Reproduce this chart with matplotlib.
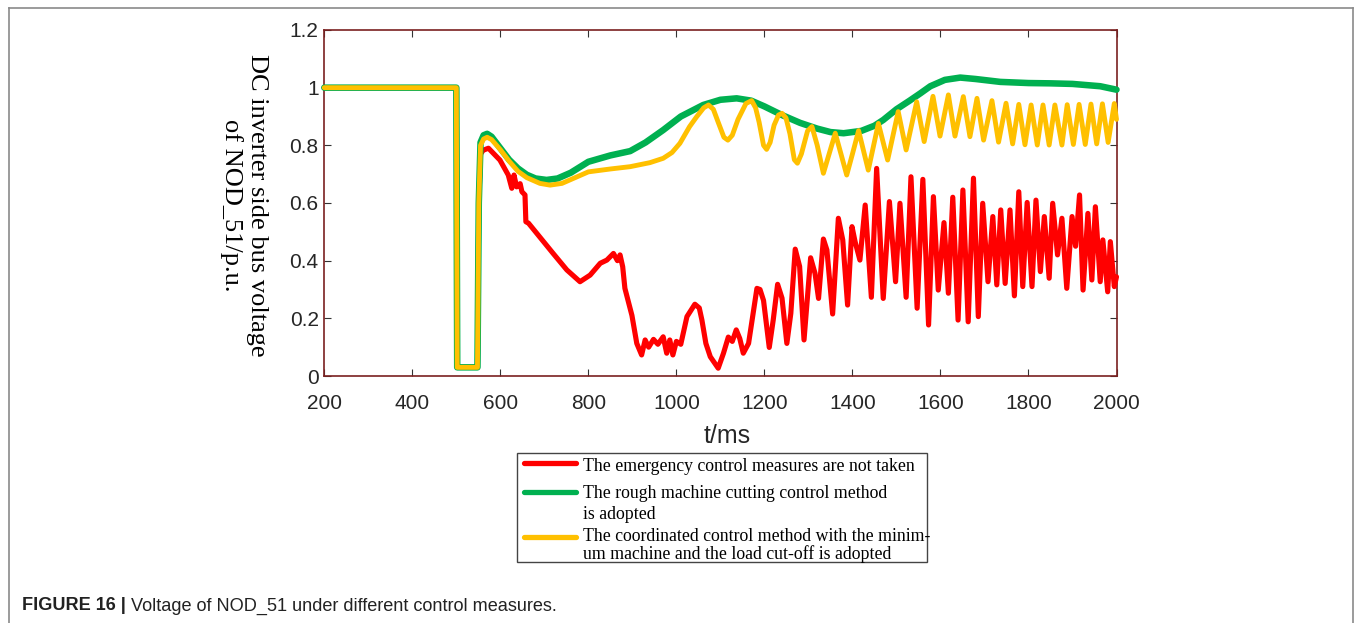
import matplotlib
matplotlib.use('Agg')
import matplotlib.pyplot as plt
from matplotlib.lines import Line2D
from matplotlib.patches import Rectangle

plt.rcParams['font.family'] = ['Liberation Sans', 'DejaVu Sans']

# ---------------- data (t in ms, voltage in p.u.) ----------------
green_curve = [(200, 1.0), (500, 1.0), (502, 0.03), (548, 0.03), (551, 0.6), (555, 0.81),
               (562, 0.835), (570, 0.84), (580, 0.83), (600, 0.79), (620, 0.75), (640, 0.72),
               (660, 0.698), (680, 0.685), (705, 0.68), (730, 0.685), (760, 0.705), (800, 0.743),
               (850, 0.765), (895, 0.78), (930, 0.81), (970, 0.853), (1010, 0.9), (1061, 0.94),
               (1100, 0.958), (1137, 0.963), (1170, 0.955), (1200, 0.935), (1240, 0.905),
               (1281, 0.878), (1320, 0.858), (1350, 0.846), (1380, 0.842), (1420, 0.85),
               (1450, 0.868), (1470, 0.888), (1500, 0.925), (1530, 0.955), (1554, 0.98),
               (1577, 1.005), (1610, 1.027), (1645, 1.035), (1680, 1.03), (1736, 1.02),
               (1800, 1.016), (1850, 1.015), (1900, 1.013), (1963, 1.005), (2000, 0.993)]

yellow_curve = [(200, 1.0), (500, 1.0), (502, 0.03), (548, 0.03), (551, 0.6), (555, 0.80),
                (562, 0.822), (570, 0.828), (580, 0.82), (600, 0.785), (620, 0.745), (640, 0.71),
                (660, 0.688), (690, 0.668), (713, 0.662), (740, 0.668), (770, 0.688), (800, 0.708),
                (850, 0.718), (895, 0.726), (940, 0.74), (970, 0.755), (990, 0.775), (1008, 0.807),
                (1030, 0.865), (1046, 0.899), (1062, 0.93), (1073, 0.94), (1084, 0.925),
                (1095, 0.88), (1108, 0.828), (1117, 0.818), (1127, 0.835), (1140, 0.89),
                (1158, 0.945), (1171, 0.955), (1180, 0.93), (1188, 0.88), (1198, 0.80),
                (1205, 0.786), (1213, 0.81), (1222, 0.87), (1232, 0.905), (1240, 0.911),
                (1249, 0.895), (1258, 0.84), (1268, 0.75), (1275, 0.738), (1284, 0.77),
                (1298, 0.85), (1308, 0.865), (1320, 0.80), (1334, 0.703), (1347, 0.77),
                (1361, 0.842), (1374, 0.77), (1387, 0.697), (1400, 0.77), (1414, 0.851),
                (1436, 0.714), (1459, 0.876),
                (1480, 0.749), (1504, 0.917), (1522, 0.784), (1546, 0.951), (1563, 0.813),
                (1583, 0.97), (1599, 0.832), (1618, 0.975), (1633, 0.832), (1652, 0.969),
                (1667, 0.830), (1683, 0.963), (1698, 0.818), (1717, 0.955), (1732, 0.811),
                (1749, 0.946), (1764, 0.805), (1778, 0.942), (1792, 0.802), (1806, 0.940),
                (1820, 0.801), (1833, 0.940), (1847, 0.801), (1860, 0.940), (1876, 0.801),
                (1888, 0.941), (1902, 0.803), (1915, 0.942), (1929, 0.803), (1942, 0.943),
                (1955, 0.805), (1968, 0.944), (1981, 0.81), (1995, 0.945), (2000, 0.89)]

red_curve = [(200, 1.0), (500, 1.0), (502, 0.03), (548, 0.03), (551, 0.6), (555, 0.77),
             (561, 0.783), (573, 0.79), (599, 0.749), (618, 0.697), (626, 0.651), (631, 0.697),
             (637, 0.656), (645, 0.667), (649, 0.639), (656, 0.628), (658, 0.535), (664, 0.53),
             (720, 0.425), (751, 0.368), (781, 0.327), (804, 0.35), (827, 0.391), (842, 0.402),
             (857, 0.425), (866, 0.40), (872, 0.42), (878, 0.379), (883, 0.304), (899, 0.210),
             (910, 0.113), (921, 0.073), (929, 0.125), (937, 0.10), (948, 0.127), (958, 0.11),
             (970, 0.136), (978, 0.079), (985, 0.125), (992, 0.073), (1000, 0.12), (1010, 0.11),
             (1024, 0.206), (1042, 0.249), (1052, 0.236), (1058, 0.194), (1067, 0.113),
             (1077, 0.067), (1095, 0.027), (1107, 0.079), (1118, 0.135), (1127, 0.12),
             (1136, 0.16), (1144, 0.13), (1152, 0.079), (1164, 0.113), (1183, 0.304),
             (1190, 0.30), (1198, 0.262), (1211, 0.099), (1220, 0.194), (1230, 0.318),
             (1240, 0.27), (1251, 0.113), (1260, 0.217), (1270, 0.44), (1280, 0.38),
             (1290, 0.125), (1305, 0.41), (1315, 0.356), (1323, 0.269), (1334, 0.475),
             (1342, 0.437), (1355, 0.215), (1368, 0.547), (1378, 0.472), (1389, 0.246),
             (1399, 0.518), (1406, 0.466), (1417, 0.402), (1429, 0.593), (1443, 0.273),
             (1455, 0.72), (1470, 0.269), (1484, 0.605), (1498, 0.327), (1508, 0.599),
             (1522, 0.273), (1533, 0.691), (1547, 0.235), (1560, 0.682), (1573, 0.177),
             (1584, 0.622), (1595, 0.298), (1608, 0.532), (1618, 0.287), (1628, 0.62),
             (1640, 0.194), (1651, 0.645), (1663, 0.188), (1675, 0.686), (1686, 0.206),
             (1696, 0.599), (1708, 0.327), (1719, 0.553), (1728, 0.316), (1737, 0.576),
             (1747, 0.321), (1758, 0.576), (1768, 0.278), (1778, 0.639), (1787, 0.31),
             (1797, 0.602), (1808, 0.31), (1817, 0.61), (1827, 0.362), (1836, 0.553),
             (1847, 0.339), (1855, 0.599), (1866, 0.42), (1876, 0.547), (1887, 0.304),
             (1899, 0.553), (1907, 0.45), (1916, 0.628), (1924, 0.298), (1935, 0.564),
             (1944, 0.333), (1952, 0.587), (1963, 0.327), (1969, 0.472), (1980, 0.292),
             (1986, 0.466), (1995, 0.31), (2000, 0.344)]

series_labels = ["The emergency control measures are not taken",
                 "The rough machine cutting control method\nis adopted",
                 "The coordinated control method with the minim-\num machine and the load cut-off is adopted"]
x_ticks = [200, 400, 600, 800, 1000, 1200, 1400, 1600, 1800, 2000]
y_ticks = [0, 0.2, 0.4, 0.6, 0.8, 1.0, 1.2]
y_tick_labels = ['0', '0.2', '0.4', '0.6', '0.8', '1', '1.2']
x_label = 't/ms'
y_label = 'DC inverter side bus voltage\nof NOD_51/p.u.'
caption_bold = 'FIGURE 16 |'
caption_rest = ' Voltage of NOD_51 under different control measures.'

RED, GREEN, YELLOW = '#ff0000', '#00b050', '#ffc000'
SPINE = '#7a2020'

# ---------------- figure ----------------
W, H = 1354, 623
fig = plt.figure(figsize=(W / 100, H / 100), dpi=100)
fig.patch.set_facecolor('white')


def fx(px):
    return px / W


def fy(py):
    return 1 - py / H


# outer frame (open at the bottom)
frame_kw = dict(transform=fig.transFigure, color='#8a8a8a', lw=1.2)
fig.add_artist(Line2D([fx(8.5), fx(1352.5)], [fy(7.5), fy(7.5)], **frame_kw))
fig.add_artist(Line2D([fx(8.5), fx(8.5)], [fy(7.5), 0], **frame_kw))
fig.add_artist(Line2D([fx(1352.5), fx(1352.5)], [fy(7.5), 0], **frame_kw))

ax = fig.add_axes([fx(324.3), fy(376), (1116.5 - 324.3) / W, (376 - 30) / H])


def split(curve):
    return [p[0] for p in curve], [p[1] for p in curve]


line_kw = dict(solid_joinstyle='round', solid_capstyle='round', clip_on=False)
t, v = split(red_curve)
ax.plot(t, v, color=RED, lw=3.7, zorder=3, **line_kw)
t, v = split(green_curve)
ax.plot(t, v, color=GREEN, lw=4.7, zorder=4, **line_kw)
t, v = split(yellow_curve)
ax.plot(t, v, color=YELLOW, lw=3.5, zorder=5, **line_kw)

ax.set_xlim(200, 2000)
ax.set_ylim(0, 1.2)
ax.set_xticks(x_ticks)
ax.set_xticklabels([str(x) for x in x_ticks])
ax.set_yticks(y_ticks)
ax.set_yticklabels(y_tick_labels)
for s in ax.spines.values():
    s.set_color(SPINE)
    s.set_linewidth(1.2)
ax.tick_params(axis='both', direction='in', length=5, width=0.8, color='#333333',
               labelcolor='#262626', labelsize=15, top=True, right=True)
ax.tick_params(axis='x', pad=13)
ax.tick_params(axis='y', pad=4)

fig.text(fx(727), fy(436), x_label, ha='center', va='center', fontsize=18, color='#262626')
fig.text(fx(244), fy(205), y_label, ha='center', va='center', rotation=270,
         rotation_mode='anchor', multialignment='center', fontsize=19,
         family='Liberation Serif', color='black', linespacing=1.15)

# ---------------- legend (manual) ----------------
fig.add_artist(Rectangle((fx(516.7), fy(561.7)), (927 - 516.7) / W, (561.7 - 453) / H,
                         transform=fig.transFigure, facecolor='white', edgecolor='#444444',
                         lw=1.0))
handle_y = [463.3, 492.3, 537.3]
colors = [RED, GREEN, YELLOW]
for hy, c in zip(handle_y, colors):
    fig.add_artist(Line2D([fx(524), fx(576)], [fy(hy), fy(hy)], transform=fig.transFigure,
                          color=c, lw=3.8, solid_capstyle='round'))
text_rows = [(470.7, series_labels[0]),
             (498.0, series_labels[1].split('\n')[0]),
             (519.0, series_labels[1].split('\n')[1]),
             (541.0, series_labels[2].split('\n')[0]),
             (559.0, series_labels[2].split('\n')[1])]
for by, txt in text_rows:
    fig.text(fx(583), fy(by), txt, ha='left', va='baseline', fontsize=12.8,
             family='Liberation Serif', color='black')

# ---------------- caption ----------------
t1 = fig.text(fx(22), fy(606), caption_bold, ha='left', va='center', fontsize=13.1,
              fontweight='bold', color='#222222')
fig.canvas.draw()
bb = t1.get_window_extent(renderer=fig.canvas.get_renderer())
fig.text(bb.x1 / W, fy(606), caption_rest, ha='left', va='center', fontsize=13.1,
         color='#222222')

fig.savefig('out.png', dpi=100)
